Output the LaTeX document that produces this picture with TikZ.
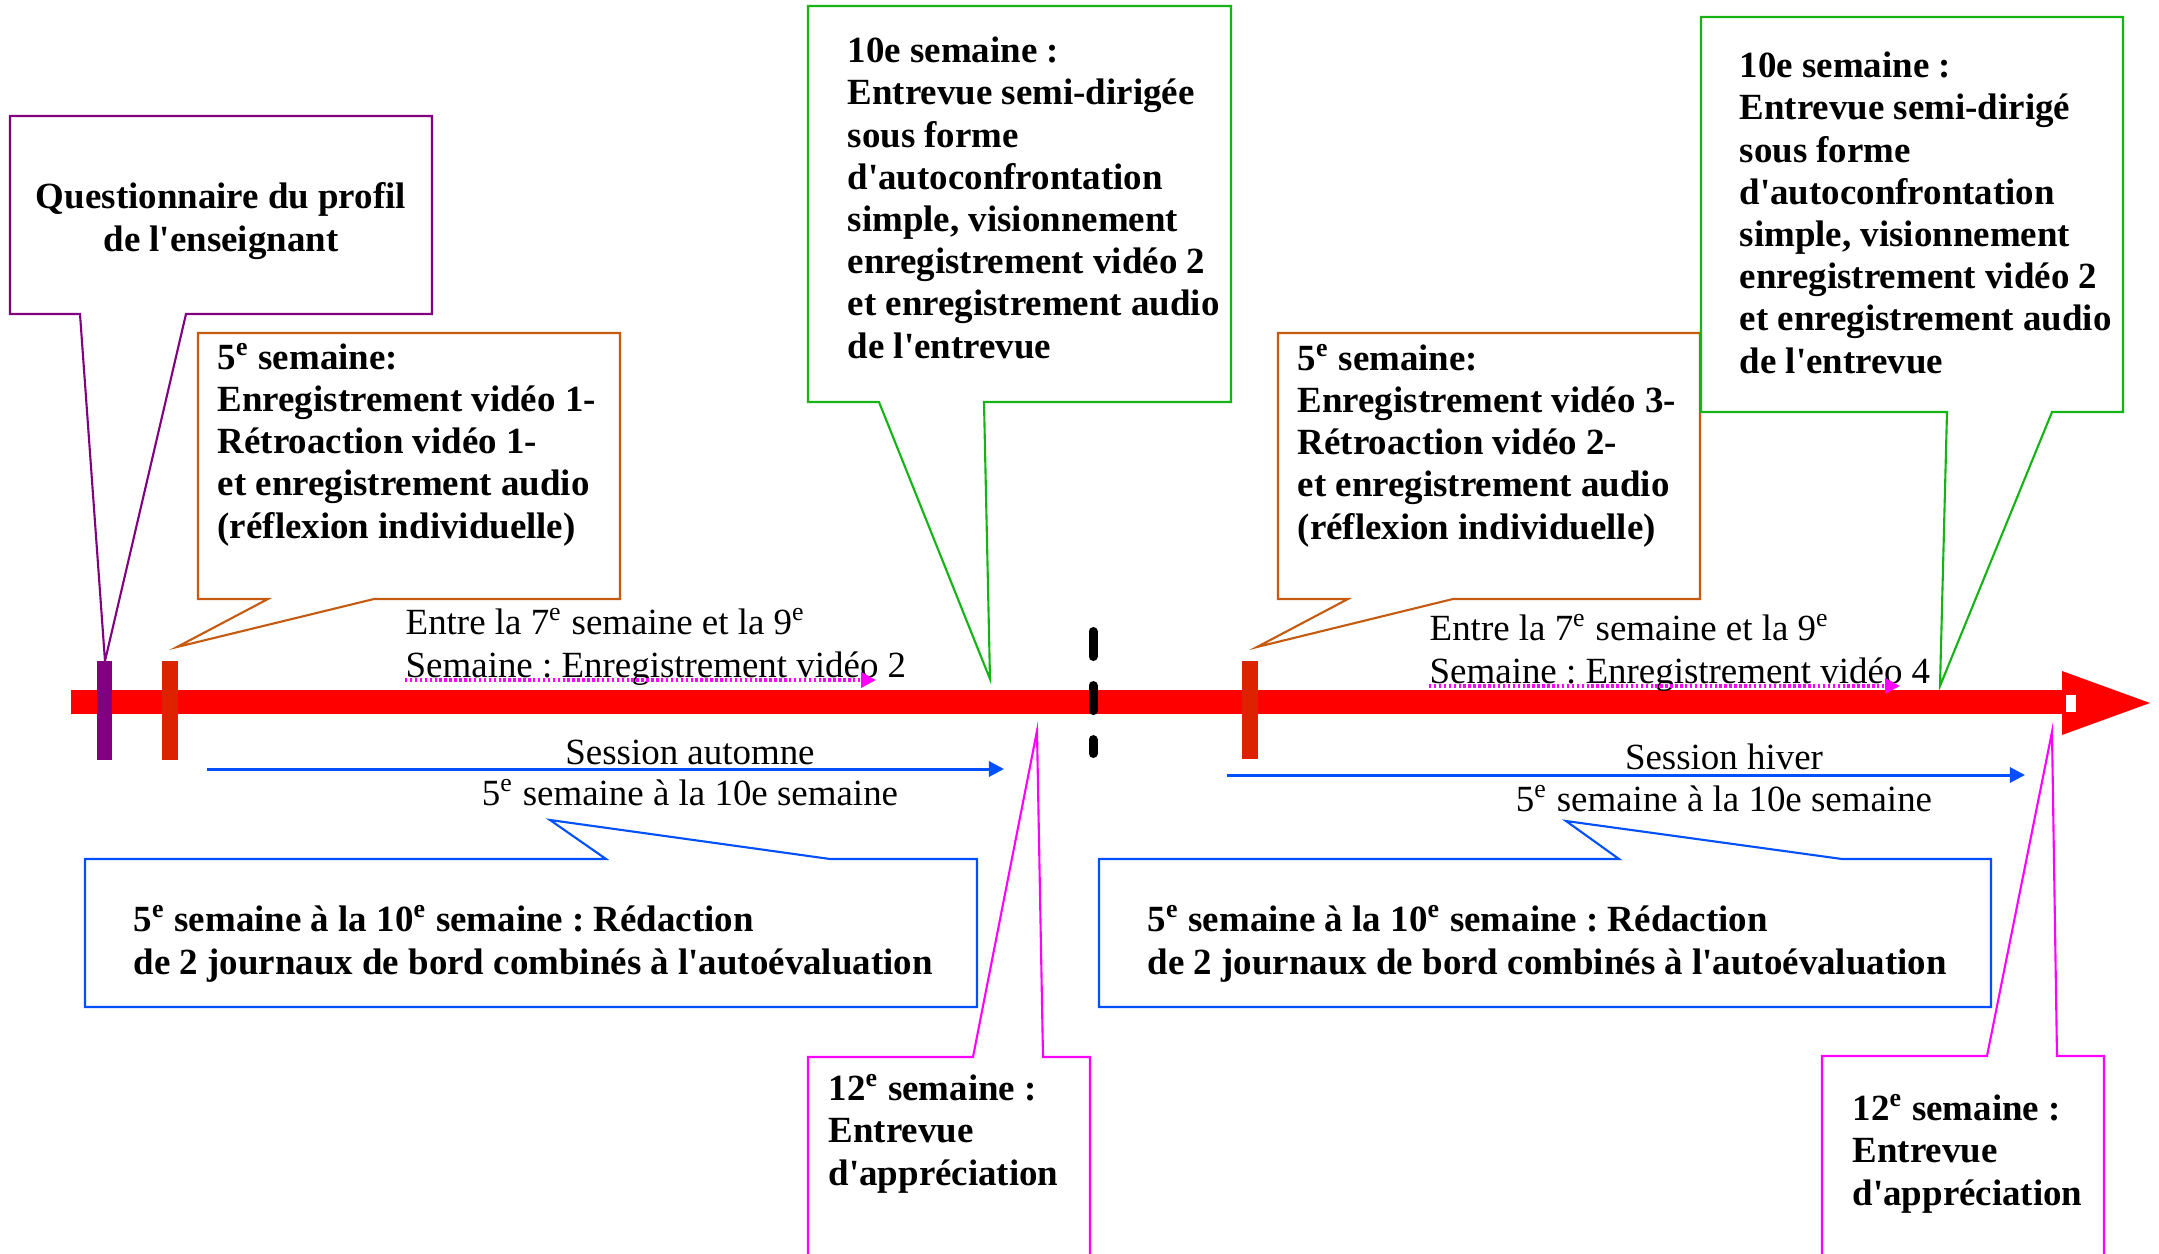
\documentclass[tikz,border=0pt]{standalone}
\usepackage{fontspec}
\setmainfont{Liberation Serif}[Ligatures=TeXOff]
\usetikzlibrary{arrows.meta}
\definecolor{callpurple}{RGB}{128,0,128}
\definecolor{tickred}{RGB}{221,34,0}
\definecolor{callorange}{RGB}{197,90,17}
\definecolor{callgreen}{RGB}{20,180,20}
\definecolor{callblue}{RGB}{0,80,255}
\definecolor{callpink}{RGB}{255,0,255}
\frenchspacing

\begin{document}
\begin{tikzpicture}[x=0.01cm,y=-0.01cm,
 txt/.style={font=\fontsize{10.5}{12}\selectfont,inner sep=0pt,align=left,anchor=base west},
 bold/.style={txt,font=\fontsize{10.5}{12}\selectfont\bfseries},
 call/.style={line width=0.6pt},
 session/.style={callblue,line width=0.85pt,-{Triangle[length=4.3pt,width=4.3pt]}},
 video/.style={callpink,line width=1pt,dash pattern=on 0.7pt off 0.7pt,-{Triangle[length=4.2pt,width=4.2pt]}}]
 \useasboundingbox (0,0) rectangle (2159,1254);
 % timeline
 \fill[red] (71,690) rectangle (2062,714);
 \fill[red] (2062,671) -- (2150,703) -- (2062,735) -- cycle;
 \fill[white] (2066,695) rectangle (2076,712);
 \fill[callpurple] (97,661) rectangle (112,760);
 \fill[tickred] (162,661) rectangle (178,760);
 \fill[tickred] (1242,661) rectangle (1258,759);
 \draw[line width=0.09cm,line cap=round,dash pattern=on 0.25cm off 0.29cm] (1093,631.5) -- (1093,753.5);
 % pointer tips
 \coordinate (t1) at (105,661); \coordinate (t2) at (177,647); \coordinate (t3) at (990,679);
 \coordinate (t4) at (550,820); \coordinate (t5) at (1037,731); \coordinate (t6) at (1257,647);
 \coordinate (t7) at (1940,686); \coordinate (t8) at (1566,821); \coordinate (t9) at (2052,732);
 % callouts
 \draw[callpurple,call] (10,116) -- (432,116) -- (432,314) -- (186,314) -- (t1) -- (80,314) -- (10,314) -- cycle;
 \draw[callorange,call] (198,333) -- (620,333) -- (620,599) -- (374,599) -- (t2) -- (268,599) -- (198,599) -- cycle;
 \draw[callgreen,call] (808,6) -- (1231,6) -- (1231,402) -- (984,402) -- (t3) -- (879,402) -- (808,402) -- cycle;
 \draw[callblue,call] (85,859) -- (606,859) -- (t4) -- (830,859) -- (977,859) -- (977,1007) -- (85,1007) -- cycle;
 \draw[callpink,call] (808,1256) -- (808,1057) -- (973,1057) -- (t5) -- (1043,1057) -- (1090,1057) -- (1090,1256);
 \draw[callorange,call] (1278,333) -- (1700,333) -- (1700,599) -- (1453,599) -- (t6) -- (1348,599) -- (1278,599) -- cycle;
 \draw[callgreen,call] (1701,17) -- (2123,17) -- (2123,412) -- (2052,412) -- (t7) -- (1947,412) -- (1701,412) -- cycle;
 \draw[callblue,call] (1099,859) -- (1619,859) -- (t8) -- (1842,859) -- (1991,859) -- (1991,1007) -- (1099,1007) -- cycle;
 \draw[callpink,call] (1822,1256) -- (1822,1056) -- (1987,1056) -- (t9) -- (2057,1056) -- (2104,1056) -- (2104,1256);
 % texts, autumn (anchored on the last line)
 \node[bold,align=center,anchor=base] (quest) at (221,251) {Questionnaire du profil\\de l'enseignant};
 \node[bold] (sem5a) at (217,538) {5\textsuperscript{e} semaine:\\Enregistrement vidéo 1-\\Rétroaction vidéo 1-\\et enregistrement audio\\(réflexion individuelle)};
 \node[bold] (sem10a) at (847,358) {10e semaine :\\Entrevue semi-dirigée\\sous forme\\d'autoconfrontation\\simple, visionnement\\enregistrement vidéo 2\\et enregistrement audio\\de l'entrevue};
 \node[txt] (ent7a) at (405,677) {Entre la 7\textsuperscript{e} semaine et la 9\textsuperscript{e}\\Semaine : Enregistrement vidéo 2};
 \node[txt,anchor=base] (sess1) at (690,764) {Session automne};
 \node[txt,anchor=base] (per1) at (690,805) {5\textsuperscript{e} semaine à la 10e semaine};
 \node[bold] (redac1) at (133,974) {5\textsuperscript{e} semaine à la 10\textsuperscript{e} semaine : Rédaction\\de 2 journaux de bord combinés à l'autoévaluation};
 \node[bold] (sem12a) at (828,1185) {12\textsuperscript{e} semaine :\\Entrevue\\d'appréciation};
 % texts, winter
 \node[bold] (sem5b) at (1297,539) {5\textsuperscript{e} semaine:\\Enregistrement vidéo 3-\\Rétroaction vidéo 2-\\et enregistrement audio\\(réflexion individuelle)};
 \node[bold] (sem10b) at (1739,373) {10e semaine :\\Entrevue semi-dirigé\\sous forme\\d'autoconfrontation\\simple, visionnement\\enregistrement vidéo 2\\et enregistrement audio\\de l'entrevue};
 \node[txt] (ent7b) at (1429,683) {Entre la 7\textsuperscript{e} semaine et la 9\textsuperscript{e}\\Semaine : Enregistrement vidéo 4};
 \node[txt,anchor=base] (sess2) at (1724,769) {Session hiver};
 \node[txt,anchor=base] (per2) at (1724,811) {5\textsuperscript{e} semaine à la 10e semaine};
 \node[bold] (redac2) at (1147,974) {5\textsuperscript{e} semaine à la 10\textsuperscript{e} semaine : Rédaction\\de 2 journaux de bord combinés à l'autoévaluation};
 \node[bold] (sem12b) at (1852,1205) {12\textsuperscript{e} semaine :\\Entrevue\\d'appréciation};
 % arrows
 \coordinate (v1a) at (405,680); \coordinate (v1b) at (876,680);
 \coordinate (v2a) at (1429,686); \coordinate (v2b) at (1900,686);
 \coordinate (s1a) at (207,769); \coordinate (s1b) at (1004,769);
 \coordinate (s2a) at (1227,775); \coordinate (s2b) at (2025,775);
 \draw[video] (v1a) -- (v1b); \draw[video] (v2a) -- (v2b);
 \draw[session] (s1a) -- (s1b); \draw[session] (s2a) -- (s2b);
\end{tikzpicture}
\end{document}
